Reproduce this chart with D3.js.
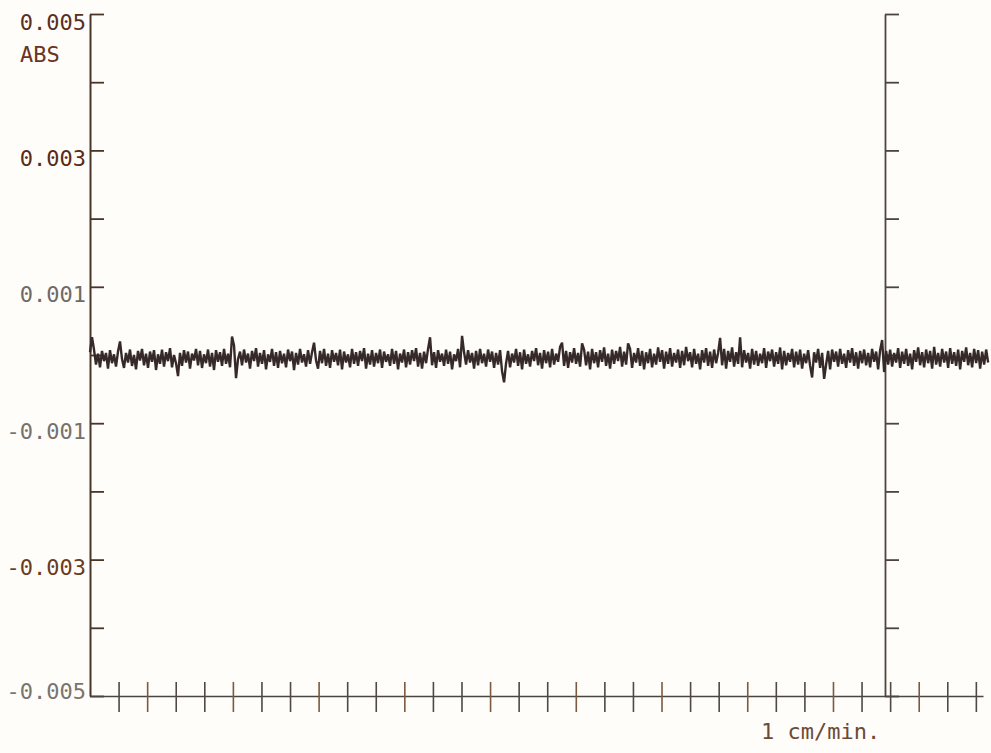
<!DOCTYPE html>
<html>
<head>
<meta charset="utf-8">
<script src="https://cdn.jsdelivr.net/npm/d3@7/dist/d3.min.js"></script>
<style>
  html, body { margin: 0; padding: 0; background: #fefdfa; }
  svg { display: block; }
  .lbl { font-family: "DejaVu Sans Mono", monospace; font-size: 22px; }
</style>
</head>
<body>
<svg id="chart" width="991" height="753"></svg>
<script>
// Absorbance baseline recording (ABS vs. time, chart speed 1 cm/min)

// y axis ticks (ABS) and their printed labels
const yTicks = [0.005, 0.004, 0.003, 0.002, 0.001, 0, -0.001, -0.002, -0.003, -0.004, -0.005];
const yTickLabels = ["0.005", "", "0.003", "", "0.001", "", "-0.001", "", "-0.003", "", "-0.005"];

// chart-paper time marks (minutes) along the bottom
const timeMarks = d3.range(1, 32);
const timeExtent = [0, 31.25];
const frameRightTime = 27.82;

// recorded signal, in units of 1e-5 ABS, one sample every 0.07 min
const sampleInterval = 0.07;
const signal = [
    4, 26,  8,-14,  2,-18,  6, -9,  3,-20,  7,-12,  1,-17,  5, 20, -6,-19,  3,-11,  8,-16,  0,-21,  6,
   -8,  9,-15,  2,-19,  5,-10,  7,-22,  1,-13,  8,-17,  4, -9, 10,-18,  0,-12,-31,  3,-16,  7,-11,  5,
  -20,  2, -8,  9,-15,  6,-19,  1,-12,  8,-17,  3,-22,  7,-10,  4,-16,  9,-13,  2,-18, 27, 14,-34, -6,
    5,-15,  8,-11,  2,-20,  6, -9, 10,-17,  3,-13,  7,-21,  1,-10,  9,-16,  4,-19,  6,-12,  2,-18,  8,
   -9,  5,-22,  3,-14,  9,-11,  1,-17,  7,-13,  4, 18, -8,-20,  6,-12,  9,-16,  2,-19,  7,-10,  3,-15,
    8,-21,  5,-11,  1,-18,  9,-13,  4,-16,  6, -9, 10,-20,  2,-14,  7,-17,  3,-12,  8,-19,  5,-10,  1,
  -16,  9,-13,  6,-21,  2,-11,  8,-18,  4,-14,  7, -9, 10,-17,  3,-20,  5,-12,  9, 26,-15,  4,-19,  7,
  -10,  2,-16,  8,-13,  5,-21,  1, -9,  9,-18, 28,  4,-14,  7,-11,  3,-20,  6,-15,  9,-12,  2,-17,  8,
  -10,  5,-19,  3,-14,  7,-24,-40,-12,  6,-18,  2,-11,  9,-16,  4,-21,  8,-13,  1,-17,  6, -9, 10,-15,
    3,-20,  7,-12,  5,-18,  9,-14,  2,-10, 12, 18,-16,  6,-19,  4,-11, 10,-13,  3,-17, 17,  8,-15,  5,
  -21,  9,-12,  4,-18,  7,-10, 11,-16,  2,-20,  8,-13,  6, -9, 12,-17,  5,-14, 17,  9,-19,  3,-11, 10,
  -16,  6,-21,  4,-12,  9,-18,  2,-14, 11,-10,  7,-20,  5,-13, 10,-17,  3,-11,  8,-19,  6,-15, 12, -9,
    4,-18,  9,-13,  2,-21,  7,-11, 10,-16,  5,-19,  8,-12,  3, 25,-15,  9,-20,  6,-10, 11,-17,  4,-13,
   26,-18,  7,-11,  3,-20,  9,-14,  6,-16,  2,-12, 10,-19,  5, -9,  8,-17,  4,-13, 11,-21,  6,-15,  3,
  -10,  9,-18,  5,-14,  8,-20,  2,-12,  7,-16,-33,  4,-11,  9,-19,  3,-35,-14,  6,-21,  8,-10,  5,-17,
    9,-13,  2,-19,  7,-11, 10,-16,  4,-20,  6,-12,  8,-15,  3,-18,  9,-10,  5,-21,  7, 22,-25,  6,-14,
    8,-17,  3,-11, 10,-19,  5,-13,  9,-16,  2,-21,  7,-10, 11,-15,  4,-18,  8,-12,  6,-20, 12,-14,  3,
  -17,  9,-11,  5,-19, 10,-13,  4,-16,  8,-21,  6,-10, 11,-15,  3,-18,  9,-12,  7,-20,  5,-14,  8,-11
];

// label ink colours as printed by the plotter pens
const labelInk = ["#5c2e1c", "#000", "#5a2a16", "#000", "#6f6a66", "#000", "#76716c", "#000", "#6b3a1f", "#000", "#7a7470"];

const svg = d3.select("#chart");

const x = d3.scaleLinear().domain(timeExtent).range([90, 983]);
const y = d3.scaleLinear().domain([-0.005, 0.005]).range([696, 14]);

const axisInk = "#4a3529";

// left ABS axis, ticks pointing inward
const leftAxis = svg.append("g")
  .attr("transform", `translate(${x(0)},0)`)
  .call(d3.axisLeft(y).tickValues(yTicks).tickSizeInner(-14).tickSizeOuter(0)
        .tickPadding(4).tickFormat((d, i) => yTickLabels[i]));
leftAxis.select(".domain").attr("stroke", axisInk).attr("stroke-width", 2);
leftAxis.selectAll(".tick line").attr("stroke", axisInk).attr("stroke-width", 1.8);
leftAxis.selectAll(".tick text")
  .attr("class", "lbl")
  .attr("font-family", null).attr("font-size", null)
  .attr("x", 86 - x(0))
  .attr("dy", null)
  // the bottom label sits above the time axis line
  .attr("y", d => d === -0.005 ? 2 : 15)
  .attr("fill", (d, i) => labelInk[i]);

// right frame edge with inward ticks
const rightAxis = svg.append("g")
  .attr("transform", `translate(${x(frameRightTime)},0)`)
  .call(d3.axisRight(y).tickValues(yTicks).tickSizeInner(14).tickSizeOuter(0).tickFormat(""));
rightAxis.select(".domain").attr("stroke", "#55433a").attr("stroke-width", 1.8);
rightAxis.selectAll(".tick line").attr("stroke", "#4d4440").attr("stroke-width", 1.8);

// bottom time axis with crossing marks
const bottomAxis = svg.append("g")
  .attr("transform", `translate(0,${y(-0.005)})`)
  .call(d3.axisBottom(x).tickValues(timeMarks).tickSizeInner(16).tickSizeOuter(0).tickFormat(""));
bottomAxis.select(".domain").attr("stroke", "#4b4542").attr("stroke-width", 1.6);
bottomAxis.selectAll(".tick line")
  .attr("y1", -14)
  .attr("stroke", (d, i) => i % 3 === 1 ? "#7a5a40" : "#4f4844")
  .attr("stroke-width", 1.6);

// unit and speed annotations
svg.append("text").attr("class", "lbl")
  .attr("x", 20).attr("y", 62).attr("fill", "#6a3322").text("ABS");
svg.append("text").attr("class", "lbl")
  .attr("x", 761).attr("y", 739).attr("fill", "#6b4a35").text("1 cm/min.");

// recorded trace
const line = d3.line()
  .x((d, i) => x(i * sampleInterval))
  .y(d => y(d * 1e-5));

svg.append("path")
  .datum(signal)
  .attr("fill", "none")
  .attr("stroke", "#36292a")
  .attr("stroke-width", 2.4)
  .attr("stroke-linejoin", "bevel")
  .attr("d", line);
</script>
</body>
</html>
